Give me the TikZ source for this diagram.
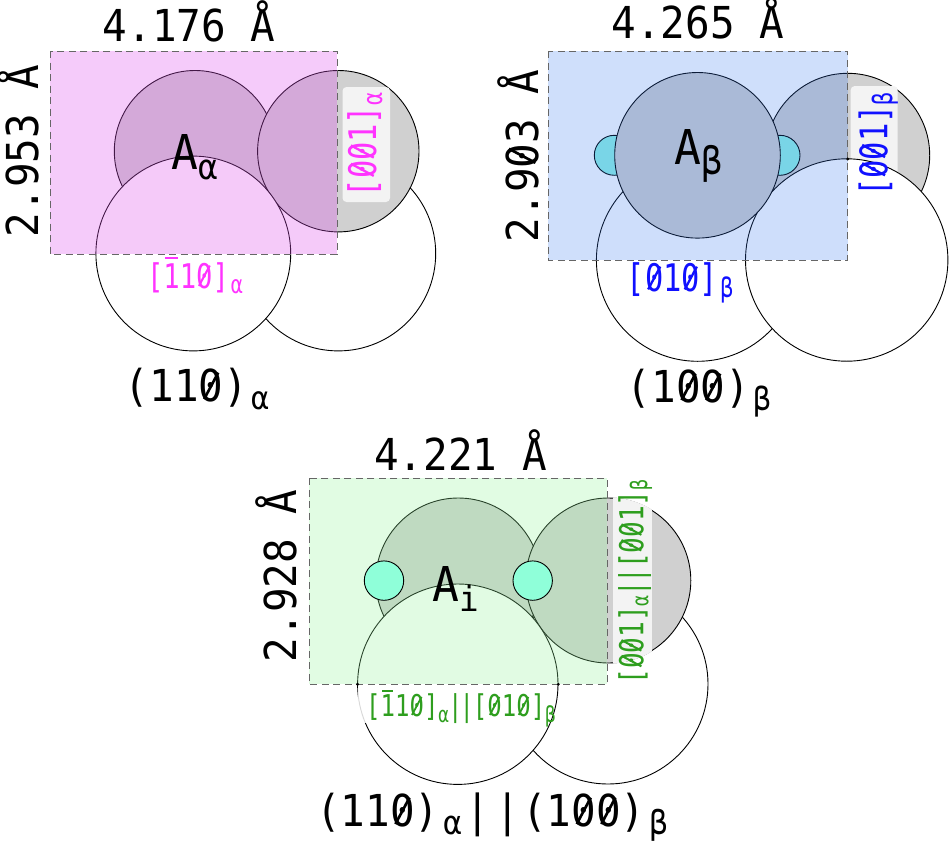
\documentclass[tikz,border=0pt]{standalone}
\usepackage{fontspec}
\setmainfont{DejaVu Sans Mono}
\newfontfamily\monoBig[FakeStretch=.93]{DejaVu Sans Mono}
\newfontfamily\monoLab[FakeStretch=.80]{DejaVu Sans Mono}
\newfontfamily\monoTall[FakeStretch=.79]{DejaVu Sans Mono}
\newcommand\mysub[3]{\raisebox{-#2pt}{\fontsize{#1}{#1}\selectfont #3}}
% zero with a slash through it
\newcommand\zz{\leavevmode\setbox0\hbox{0}\rlap{\hbox to \wd0{\hss\makebox[0pt]{\smash{\raisebox{.33em}{\rotatebox[origin=c]{62}{\rule{.68em}{.06em}}}}}\hss}}0}
% one with a bar above it
\newcommand\barone{\leavevmode\setbox0\hbox{1}\rlap{\hbox to \wd0{\hss\raisebox{.84em}{\rule{.36em}{.06em}}\hss}}1}
\definecolor{pinkfill}{RGB}{222,82,238}
\definecolor{bluefill}{RGB}{50,118,238}
\definecolor{greenfill}{RGB}{148,244,155}
\definecolor{atomgray}{RGB}{208,208,208}
\definecolor{boxgray}{RGB}{243,243,243}
\definecolor{cyanB}{RGB}{144,243,230}
\definecolor{cyanC}{RGB}{143,255,217}
\definecolor{labpink}{RGB}{255,51,255}
\definecolor{labblue}{RGB}{16,16,255}
\definecolor{labgreen}{RGB}{46,158,30}
\tikzset{
  atomline/.style={draw=black,line width=.9pt},
  grayatom/.style={atomline,fill=atomgray},
  whiteatom/.style={atomline,fill=white},
  cellborder/.style={draw=black!60,line width=.9pt,dash pattern=on 7pt off 4.5pt},
  big/.style={anchor=base,inner sep=0pt,font=\fontsize{44}{44}\monoBig\selectfont},
  atomname/.style={anchor=base,inner sep=0pt,font=\fontsize{48}{48}\monoBig\selectfont},
  labeltext/.style={anchor=base,inner sep=0pt,font=\fontsize{#1}{#1}\monoLab\selectfont},
  talltext/.style={anchor=base,inner sep=0pt,font=\fontsize{#1}{#1}\monoTall\selectfont},
}
\begin{document}
\begin{tikzpicture}[x=1pt,y=-1pt]
\useasboundingbox (0,0) rectangle (950,846);
% ---------- panel alpha
\draw[whiteatom] (338.3,253.5) circle[radius=97.4pt];
\draw[grayatom] (195,151.2) circle[radius=80.7pt];
\draw[grayatom] (338.3,151.2) circle[radius=80.7pt];
\draw[whiteatom] (193.3,253.5) circle[radius=97.4pt];
\fill[pinkfill,fill opacity=.3] (50,51) rectangle (337,254);
\draw[cellborder] (50,51) rectangle (337,254);
\fill[boxgray,rounded corners=4pt] (342.5,87) rectangle (390,202);
\node[big] (wa) at (189,41.7) {4.176 Å};
\node[big,rotate=90] (ha) at (38,151) {2.953 Å};
\node[big] (pa) at (197,401.7) {(11\zz)\hspace{3pt}\mysub{32}{8}{α}};
\node[atomname] (na) at (195,169.3) {A\mysub{35}{10}{α}};
\node[labeltext=34,text=labpink] (la) at (195,288) {[\barone1\zz]\hspace{2pt}\mysub{25}{5}{α}};
\node[labeltext=38,text=labpink,rotate=90] (va) at (376,145) {[\zz\zz1]\mysub{27}{6}{α}};
% ---------- panel beta
\draw[whiteatom] (697.7,260) circle[radius=101.3pt];
\draw[grayatom] (847.7,155.3) circle[radius=82pt];
\draw[atomline,fill=cyanB] (614.3,155.3) circle[radius=20pt];
\draw[atomline,fill=cyanB] (780,155.3) circle[radius=20pt];
\fill[boxgray,rounded corners=4pt] (850.7,86) rectangle (897.7,202);
\draw[whiteatom] (846.7,260) circle[radius=101.2pt];
\draw[grayatom] (697.5,155.3) circle[radius=82.8pt];
\fill[bluefill,fill opacity=.234] (548.3,51) rectangle (847.7,260);
\draw[cellborder] (548.3,51) rectangle (847.7,260);
\fill (847.7,159) circle[radius=1.6pt];
\node[big] (wb) at (697.8,38.3) {4.265 Å};
\node[big,rotate=90] (hb) at (538,155.8) {2.9\zz3 Å};
\node[big] (pb) at (699,402.7) {(1\zz\zz)\hspace{3pt}\mysub{32}{8}{β}};
\node[atomname] (nb) at (698.3,164) {A\mysub{38}{10}{β}};
\node[labeltext=38,text=labblue] (lb) at (680,291.7) {[\zz1\zz]\hspace{2pt}\mysub{27}{6}{β}};
\node[labeltext=38,text=labblue,rotate=90] (vb) at (887.3,144.5) {[\zz\zz1]\mysub{27}{5}{β}};
% ---------- panel interface
\draw[whiteatom] (608,684) circle[radius=100pt];
\draw[grayatom] (458.3,580.5) circle[radius=82.5pt];
\draw[grayatom] (608.3,580.5) circle[radius=82.5pt];
\draw[whiteatom] (457.8,684.2) circle[radius=100.2pt];
\fill[greenfill,fill opacity=.28] (309.3,478.3) rectangle (607.3,684.3);
\draw[cellborder] (309.3,478.3) rectangle (607.3,684.3);
\fill (357.5,684.3) circle[radius=1.6pt];
\fill (558.3,684.3) circle[radius=1.6pt];
\begin{scope}
  \clip (608.3,580.5) circle[radius=83.2pt];
  \fill[boxgray] (612.7,478) rectangle (651.7,690);
\end{scope}
\fill[white,fill opacity=.85] (358,686) rectangle (548,723);
\draw[atomline,fill=cyanC] (384,580.6) circle[radius=19.7pt];
\draw[atomline,fill=cyanC] (532.7,580.6) circle[radius=19.7pt];
\node[big] (wc) at (460.5,470.7) {4.221 Å};
\node[big,rotate=90] (hc) at (296,575.8) {2.928 Å};
\node[big] (pc) at (492,826.7) {(11\zz)\hspace{4pt}\mysub{33}{8}{α}\hspace{4pt}|\hspace{5pt}|\hspace{2pt}(1\zz\zz)\hspace{4pt}\mysub{33}{8}{β}};
\node[atomname] (nc) at (456,601.7) {A\mysub{35}{10}{i}};
\node[labeltext=30,text=labgreen] (lc) at (461,716.7) {[\barone1\zz]\mysub{22}{6}{α}\kern-1pt|\kern-3pt|\kern-1pt[\zz1\zz]\mysub{22}{6}{β}};
\node[talltext=33,text=labgreen,rotate=90] (vc) at (643.3,582) {[\zz\zz1]\mysub{23}{5}{α}\kern-1pt|\kern-3pt|\kern-1pt[\zz\zz1]\mysub{23}{4}{β}};
\end{tikzpicture}
\end{document}
